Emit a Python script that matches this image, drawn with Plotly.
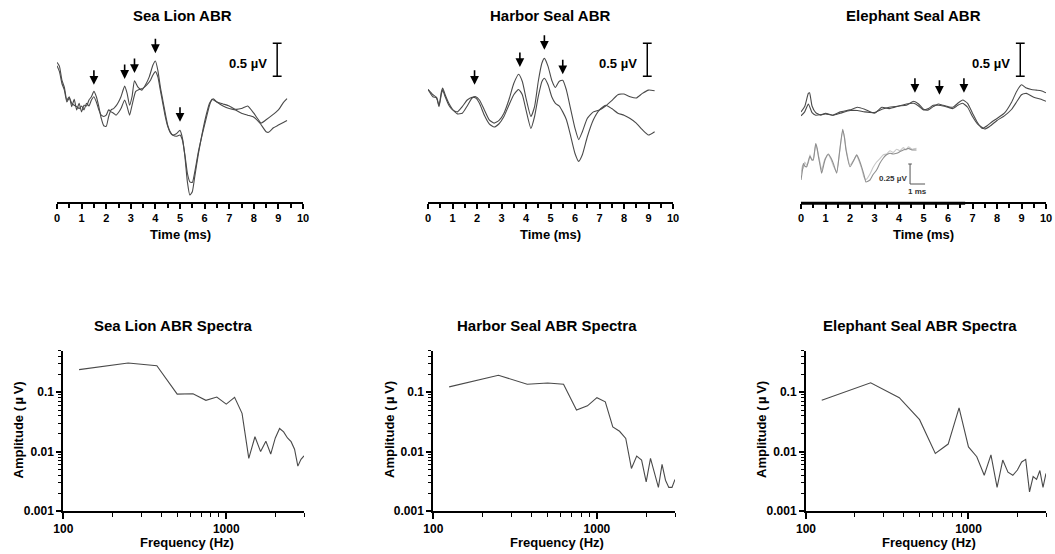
import plotly.graph_objects as go

# ---------------- ABR waveforms (time in ms, amplitude in µV) ----------------
sl_t_a = [0.0, 0.1, 0.2, 0.3, 0.4, 0.5, 0.6, 0.7, 0.8, 0.9, 1.0, 1.1, 1.2, 1.3, 1.4, 1.5, 1.6, 1.7, 1.8, 1.9,
          2.0, 2.1, 2.2, 2.3, 2.4, 2.5, 2.6, 2.75, 2.85, 2.95, 3.05, 3.15, 3.3, 3.45, 3.6, 3.75, 3.9, 4.0, 4.1,
          4.2, 4.3, 4.4, 4.5, 4.6, 4.7, 4.85, 5.0, 5.1, 5.2, 5.3, 5.4, 5.5, 5.6, 5.75, 5.9, 6.05, 6.2, 6.35,
          6.5, 6.75, 7.0, 7.25, 7.5, 7.75, 8.0, 8.25, 8.5, 8.6, 8.8, 9.0, 9.2, 9.35]
sl_v_a = [0.57, 0.51, 0.30, 0.19, 0.0, 0.05, -0.10, 0.01, -0.15, -0.05, -0.18, -0.08, -0.09, 0.0, 0.05, 0.13,
          0.05, -0.10, -0.28, -0.39, -0.40, -0.25, -0.15, -0.13, -0.09, -0.03, 0.05, 0.21, 0.10, -0.08, 0.05,
          0.29, 0.19, 0.15, 0.23, 0.35, 0.53, 0.59, 0.45, 0.20, 0.0, -0.20, -0.38, -0.48, -0.53, -0.51, -0.46,
          -0.58, -0.86, -1.24, -1.44, -1.39, -1.16, -0.81, -0.51, -0.25, -0.05, 0.02, -0.03, -0.09, -0.13,
          -0.15, -0.20, -0.23, -0.26, -0.35, -0.48, -0.49, -0.42, -0.38, -0.34, -0.31]
sl_t_b = [0.0, 0.1, 0.2, 0.3, 0.4, 0.5, 0.6, 0.7, 0.8, 0.9, 1.0, 1.1, 1.2, 1.3, 1.4, 1.5, 1.6, 1.7, 1.8, 1.9,
          2.0, 2.1, 2.2, 2.3, 2.4, 2.5, 2.6, 2.75, 2.85, 2.95, 3.05, 3.2, 3.35, 3.5, 3.65, 3.8, 3.9, 4.0, 4.1,
          4.2, 4.3, 4.4, 4.5, 4.6, 4.7, 4.85, 5.0, 5.1, 5.2, 5.3, 5.4, 5.5, 5.6, 5.75, 5.9, 6.05, 6.2, 6.3,
          6.5, 6.75, 7.0, 7.25, 7.5, 7.75, 8.0, 8.15, 8.3, 8.5, 8.75, 9.0, 9.2, 9.35]
sl_v_b = [0.52, 0.43, 0.25, 0.15, -0.03, 0.03, -0.05, -0.08, -0.10, -0.13, -0.09, -0.15, -0.05, -0.09, 0.0,
          0.05, -0.03, -0.15, -0.23, -0.25, -0.23, -0.15, -0.18, -0.20, -0.23, -0.19, -0.13, 0.0, -0.10, -0.23,
          -0.08, 0.13, 0.16, 0.18, 0.23, 0.30, 0.38, 0.43, 0.35, 0.15, -0.05, -0.25, -0.40, -0.49, -0.53, -0.55,
          -0.53, -0.61, -0.83, -1.11, -1.24, -1.25, -1.09, -0.78, -0.53, -0.30, -0.08, 0.01, -0.03, -0.06,
          -0.09, -0.14, -0.13, -0.09, -0.20, -0.28, -0.35, -0.30, -0.23, -0.15, -0.04, 0.02]

hs_t = [0.0, 0.2, 0.35, 0.45, 0.55, 0.6, 0.7, 0.85, 1.0, 1.2, 1.4, 1.6, 1.8, 1.95, 2.1, 2.3, 2.5, 2.7, 2.9,
        3.1, 3.3, 3.5, 3.7, 3.85, 4.0, 4.2, 4.35, 4.5, 4.65, 4.75, 4.9, 5.05, 5.2, 5.35, 5.5, 5.65, 5.8, 6.0,
        6.15, 6.3, 6.5, 6.75, 7.0, 7.25, 7.5, 7.75, 8.0, 8.25, 8.5, 8.75, 9.0, 9.25]
hs_v_a = [0.16, 0.08, 0.04, -0.08, 0.13, 0.18, 0.08, -0.05, -0.14, -0.21, -0.20, -0.09, 0.03, 0.05, 0.0,
          -0.15, -0.30, -0.35, -0.31, -0.20, 0.0, 0.25, 0.39, 0.28, 0.03, -0.25, -0.10, 0.28, 0.56, 0.63, 0.51,
          0.30, 0.19, 0.28, 0.30, 0.15, -0.10, -0.43, -0.60, -0.48, -0.28, -0.18, -0.15, -0.09, -0.01, 0.08,
          0.09, 0.05, 0.03, 0.10, 0.15, 0.14]
hs_v_b = [0.16, 0.05, 0.03, -0.10, 0.10, 0.15, 0.05, -0.08, -0.15, -0.18, -0.10, 0.0, 0.04, 0.03, -0.05,
          -0.23, -0.36, -0.41, -0.36, -0.25, -0.08, 0.08, 0.16, 0.08, -0.15, -0.43, -0.25, 0.05, 0.28, 0.33,
          0.23, 0.05, -0.05, -0.09, -0.18, -0.30, -0.51, -0.81, -0.93, -0.83, -0.56, -0.30, -0.15, -0.08,
          -0.13, -0.20, -0.23, -0.28, -0.35, -0.45, -0.53, -0.48]

es_t_a = [0.0, 0.15, 0.3, 0.35, 0.45, 0.6, 0.8, 1.0, 1.3, 1.6, 2.0, 2.3, 2.6, 3.0, 3.3, 3.6, 4.0, 4.3, 4.6,
          4.8, 5.0, 5.2, 5.4, 5.6, 5.8, 6.0, 6.2, 6.4, 6.6, 6.8, 7.0, 7.2, 7.4, 7.6, 7.8, 8.0, 8.3, 8.6, 8.8,
          9.0, 9.2, 9.4, 9.6, 9.8, 10.0]
es_v_a = [-0.18, -0.10, 0.10, 0.11, -0.09, -0.19, -0.23, -0.20, -0.23, -0.20, -0.16, -0.16, -0.18, -0.19,
          -0.14, -0.11, -0.09, -0.08, -0.02, -0.06, -0.14, -0.15, -0.10, -0.06, -0.08, -0.10, -0.11, -0.05,
          0.0, -0.05, -0.20, -0.34, -0.43, -0.39, -0.33, -0.28, -0.20, -0.03, 0.13, 0.23, 0.18, 0.16, 0.15,
          0.14, 0.11]
es_t_b = [0.0, 0.15, 0.3, 0.45, 0.6, 1.0, 1.3, 1.6, 2.0, 2.3, 2.6, 3.0, 3.3, 3.6, 4.0, 4.3, 4.6, 4.8, 5.0,
          5.2, 5.4, 5.6, 5.8, 6.0, 6.2, 6.4, 6.6, 6.8, 7.0, 7.2, 7.5, 7.7, 8.0, 8.3, 8.6, 8.8, 9.0, 9.2, 9.5,
          9.8, 10.0]
es_v_b = [-0.24, -0.18, -0.06, -0.19, -0.23, -0.21, -0.23, -0.18, -0.15, -0.11, -0.14, -0.20, -0.11, -0.13,
          -0.09, -0.06, -0.05, -0.09, -0.15, -0.13, -0.08, -0.08, -0.09, -0.11, -0.13, -0.08, -0.05, -0.11,
          -0.25, -0.36, -0.44, -0.40, -0.31, -0.24, -0.14, -0.03, 0.08, 0.10, 0.04, 0.01, -0.02]

# early-window detail of the elephant seal response (inset)
ins_t = [0.0, 0.1, 0.16, 0.25, 0.38, 0.5, 0.6, 0.72, 0.82, 0.98, 1.08, 1.16, 1.28, 1.38, 1.5, 1.6, 1.82,
         2.0, 2.16, 2.38, 2.56, 2.78, 2.9, 3.0, 3.27, 3.53, 3.71, 3.85, 4.04, 4.2, 4.33, 4.6, 4.8, 5.04,
         5.25, 5.49, 5.7, 5.93, 6.15, 6.38, 6.6, 6.82, 7.0, 7.16, 7.4, 7.7]
ins_v_a = [-0.125, 0.0, 0.08, 0.05, 0.04, 0.12, 0.17, 0.13, 0.125, 0.33, 0.27, 0.17, 0.05, -0.04, 0.05,
           0.125, 0.2, 0.15, 0.08, -0.04, 0.21, 0.51, 0.40, 0.25, 0.04, 0.125, 0.19, 0.14, 0.04, -0.06,
           -0.15, -0.125, -0.06, 0.0, 0.08, 0.15, 0.19, 0.21, 0.20, 0.21, 0.23, 0.25, 0.26, 0.27, 0.25, 0.25]
ins_v_b = [-0.05, 0.06, 0.02, 0.10, 0.06, 0.10, 0.19, 0.12, 0.14, 0.31, 0.25, 0.19, 0.08, 0.0, 0.08, 0.14,
           0.19, 0.13, 0.05, -0.02, 0.20, 0.49, 0.41, 0.27, 0.06, 0.13, 0.18, 0.12, 0.02, -0.09, -0.12,
           -0.05, 0.03, 0.10, 0.14, 0.19, 0.20, 0.24, 0.22, 0.26, 0.24, 0.28, 0.25, 0.29, 0.26, 0.27]

# wave-peak markers (ms, µV at arrow tip)
sl_peaks_t = [1.5, 2.75, 3.15, 4.0, 5.0]
sl_peaks_v = [0.23, 0.32, 0.41, 0.71, -0.33]
hs_peaks_t = [1.9, 3.75, 4.75, 5.5]
hs_peaks_v = [0.23, 0.50, 0.76, 0.39]
es_peaks_t = [4.65, 5.65, 6.65]
es_peaks_v = [0.11, 0.08, 0.11]

# ---------------- ABR spectra ----------------
freq_hz = [125, 250, 375, 500, 625, 750, 875, 1000, 1125, 1250, 1375, 1500, 1625, 1750, 1875, 2000,
           2125, 2250, 2375, 2500, 2625, 2750, 2875, 3000]
sl_amp = [0.24, 0.31, 0.28, 0.093, 0.094, 0.073, 0.083, 0.063, 0.082, 0.044, 0.0077, 0.0178, 0.010,
          0.015, 0.0091, 0.017, 0.0245, 0.0215, 0.017, 0.0147, 0.011, 0.0057, 0.0074, 0.0085]
hs_amp = [0.123, 0.193, 0.136, 0.143, 0.136, 0.050, 0.059, 0.081, 0.069, 0.026, 0.022, 0.0167, 0.0052,
          0.0084, 0.0072, 0.0031, 0.0077, 0.0043, 0.0025, 0.0061, 0.0033, 0.0025, 0.0025, 0.0034]
es_amp = [0.073, 0.144, 0.081, 0.0345, 0.0093, 0.0134, 0.0545, 0.012, 0.0082, 0.0040, 0.0088, 0.0025,
          0.0072, 0.0045, 0.0040, 0.0049, 0.0067, 0.0074, 0.0021, 0.0038, 0.0034, 0.0048, 0.0025, 0.0043]

SCALE_UV = 0.5
INSET_SCALE_UV = 0.25
INSET_SCALE_MS = 1.0

# ---------------- layout helpers ----------------
W, H = 1055, 554
FONT = "Liberation Sans, Arial, Helvetica, sans-serif"
TRACE_COLOR = "#4a4a4a"


def fx(px):
    return px / W


def fy(px):
    return 1 - px / H


def bold(size):
    return dict(family=FONT, size=size, color="black", weight="bold")


fig = go.Figure()

top_panels = [
    ("Sea Lion ABR", 57, 303, 182, [(sl_t_a, sl_v_a), (sl_t_b, sl_v_b)], sl_peaks_t, sl_peaks_v),
    ("Harbor Seal ABR", 428, 673, 550, [(hs_t, hs_v_a), (hs_t, hs_v_b)], hs_peaks_t, hs_peaks_v),
    ("Elephant Seal ABR", 801, 1046, 913, [(es_t_a, es_v_a), (es_t_b, es_v_b)], es_peaks_t, es_peaks_v),
]
bottom_panels = [
    ("Sea Lion ABR Spectra", 63.3, 304, 173, 17.5, sl_amp),
    ("Harbor Seal ABR Spectra", 433.3, 675, 547, 389, hs_amp),
    ("Elephant Seal ABR Spectra", 806, 1046, 920, 761, es_amp),
]

annotations = []
shapes = []
layout_axes = {}

TOP_Y0, TOP_Y1 = 26, 202
V_LO, V_HI = -1.5455, 1.1212

for i, (title, x0, x1, tx, traces, pk_t, pk_v) in enumerate(top_panels):
    n = i + 1
    xa = "x" if n == 1 else f"x{n}"
    ya = "y" if n == 1 else f"y{n}"
    for tt, vv in traces:
        fig.add_trace(go.Scatter(x=tt, y=vv, xaxis=xa, yaxis=ya, mode="lines", showlegend=False,
                                 line=dict(color=TRACE_COLOR, width=1.1, shape="spline", smoothing=0.5),
                                 hoverinfo="skip"))
    layout_axes[f"xaxis{'' if n == 1 else n}"] = dict(
        domain=[fx(x0), fx(x1)], anchor=ya, range=[0, 10], dtick=1, tick0=0, automargin=False,
        showline=True, linewidth=2, linecolor="black", ticks="outside", ticklen=5, tickwidth=1.5,
        tickcolor="black", tickfont=bold(11), showgrid=False, zeroline=False, fixedrange=True,
        minor=dict(dtick=0.5, tick0=0, ticks="outside", ticklen=4, tickwidth=1.5, tickcolor="black"),
    )
    layout_axes[f"yaxis{'' if n == 1 else n}"] = dict(
        domain=[fy(TOP_Y1), fy(TOP_Y0)], anchor=xa, range=[V_LO, V_HI], visible=False, fixedrange=True,
        automargin=False,
    )
    annotations.append(dict(text=title, x=fx(tx), y=fy(15), xref="paper", yref="paper",
                            showarrow=False, font=bold(15), xanchor="center", yanchor="middle"))
    annotations.append(dict(text="Time (ms)", x=fx((x0 + x1) / 2), y=fy(234), xref="paper", yref="paper",
                            showarrow=False, font=bold(13), xanchor="center", yanchor="middle"))
    # peak arrows
    for t, v in zip(pk_t, pk_v):
        annotations.append(dict(x=t, y=v, xref=xa, yref=ya, text="", showarrow=True, ax=0, ay=-16,
                                arrowhead=2, arrowsize=1.1, arrowwidth=1.6, arrowcolor="black"))
    # 0.5 µV scale bar
    bx, base = 8.95, 0.36
    for (a0, a1, b0, b1) in [(bx, bx, base, base + SCALE_UV),
                             (bx - 0.18, bx + 0.18, base, base),
                             (bx - 0.18, bx + 0.18, base + SCALE_UV, base + SCALE_UV)]:
        shapes.append(dict(type="line", xref=xa, yref=ya, x0=a0, x1=a1, y0=b0, y1=b1,
                           line=dict(color="black", width=1.5)))
    annotations.append(dict(text="0.5 \u00b5V", x=8.6, y=0.55, xref=xa, yref=ya, showarrow=False,
                            font=bold(13), xanchor="right", yanchor="middle"))

# thicker stretch of the elephant seal time axis
shapes.append(dict(type="line", xref="x3", yref="paper", x0=0, x1=6.7, y0=fy(TOP_Y1 + 1.2),
                   y1=fy(TOP_Y1 + 1.2), line=dict(color="black", width=3)))

# inset axes (elephant seal early window)
fig.add_trace(go.Scatter(x=ins_t, y=ins_v_b, xaxis="x7", yaxis="y7", mode="lines", showlegend=False,
                         line=dict(color="#c8c8c8", width=1.1, shape="spline", smoothing=0.5), hoverinfo="skip"))
fig.add_trace(go.Scatter(x=ins_t, y=ins_v_a, xaxis="x7", yaxis="y7", mode="lines", showlegend=False,
                         line=dict(color="#8e8e8e", width=1.1, shape="spline", smoothing=0.5), hoverinfo="skip"))
layout_axes["xaxis7"] = dict(domain=[fx(801), fx(931)], anchor="y7", range=[0, 130 / 15], visible=False,
                             fixedrange=True, automargin=False)
layout_axes["yaxis7"] = dict(domain=[fy(200), fy(120)], anchor="x7", range=[-0.375, 0.625], visible=False,
                             fixedrange=True, automargin=False)
ix, iy = 7.27, -0.175
shapes += [
    dict(type="line", xref="x7", yref="y7", x0=ix, x1=ix, y0=iy, y1=iy + INSET_SCALE_UV,
         line=dict(color="#555555", width=1)),
    dict(type="line", xref="x7", yref="y7", x0=ix - 0.12, x1=ix + 0.12, y0=iy + INSET_SCALE_UV,
         y1=iy + INSET_SCALE_UV, line=dict(color="#555555", width=1)),
    dict(type="line", xref="x7", yref="y7", x0=ix, x1=ix + INSET_SCALE_MS, y0=iy, y1=iy,
         line=dict(color="#555555", width=1)),
]
annotations.append(dict(text="0.25 \u00b5V", x=ix - 0.1, y=-0.1, xref="x7", yref="y7", showarrow=False,
                        font=dict(family=FONT, size=8, color="#333333", weight="bold"),
                        xanchor="right", yanchor="middle"))
annotations.append(dict(text="1 ms", x=ix + INSET_SCALE_MS / 2, y=-0.27, xref="x7", yref="y7", showarrow=False,
                        font=dict(family=FONT, size=8, color="#333333", weight="bold"),
                        xanchor="center", yanchor="middle"))

# spectra panels
BOT_Y0, BOT_Y1 = 350.7, 511
x_minor = [200, 300, 400, 500, 600, 700, 800, 900, 2000, 3000]
y_minor = [0.002, 0.003, 0.004, 0.005, 0.006, 0.007, 0.008, 0.009,
           0.02, 0.03, 0.04, 0.05, 0.06, 0.07, 0.08, 0.09, 0.2, 0.3, 0.4, 0.5]
for i, (title, x0, x1, tx, lx, amp) in enumerate(bottom_panels):
    n = i + 4
    xa, ya = f"x{n}", f"y{n}"
    fig.add_trace(go.Scatter(x=freq_hz, y=amp, xaxis=xa, yaxis=ya, mode="lines", showlegend=False,
                             line=dict(color=TRACE_COLOR, width=1.1), hoverinfo="skip"))
    layout_axes[f"xaxis{n}"] = dict(
        domain=[fx(x0), fx(x1)], anchor=ya, type="log", range=[2, 3.4771], automargin=False,
        tickmode="array", tickvals=[100, 1000], ticktext=["100", "1000"],
        showline=True, linewidth=2, linecolor="black", ticks="outside", ticklen=6, tickwidth=1.5,
        tickcolor="black", tickfont=bold(12), showgrid=False, zeroline=False, fixedrange=True,
        minor=dict(tickmode="array", tickvals=x_minor, ticks="outside", ticklen=4, tickwidth=1.2,
                   tickcolor="black", showgrid=False),
    )
    layout_axes[f"yaxis{n}"] = dict(
        domain=[fy(BOT_Y1), fy(BOT_Y0)], anchor=xa, type="log", range=[-3, -0.30103], automargin=False,
        tickmode="array", tickvals=[0.001, 0.01, 0.1], ticktext=["0.001", "0.01", "0.1"],
        showline=True, linewidth=2, linecolor="black", ticks="outside", ticklen=5, tickwidth=1.5,
        tickcolor="black", tickfont=bold(12), showgrid=False, zeroline=False, fixedrange=True,
        minor=dict(tickmode="array", tickvals=y_minor, ticks="outside", ticklen=3, tickwidth=1.2,
                   tickcolor="black", showgrid=False),
    )
    annotations.append(dict(text=title, x=fx(tx), y=fy(325), xref="paper", yref="paper",
                            showarrow=False, font=bold(15), xanchor="center", yanchor="middle"))
    annotations.append(dict(text="Frequency (Hz)", x=fx((x0 + x1) / 2 + 3), y=fy(542), xref="paper",
                            yref="paper", showarrow=False, font=bold(13), xanchor="center", yanchor="middle"))
    annotations.append(dict(text="Amplitude (\u2009\u00b5\u2009V)", x=fx(lx), y=fy(430), xref="paper",
                            yref="paper", showarrow=False, font=bold(13), textangle=-90,
                            xanchor="center", yanchor="middle"))

fig.update_layout(
    template="none",
    width=W, height=H, margin=dict(l=0, r=0, t=0, b=0, pad=0, autoexpand=False),
    paper_bgcolor="white", plot_bgcolor="white",
    showlegend=False, annotations=annotations, shapes=shapes,
    font=dict(family=FONT, color="black"),
    **layout_axes,
)

fig.write_html("out.html")
